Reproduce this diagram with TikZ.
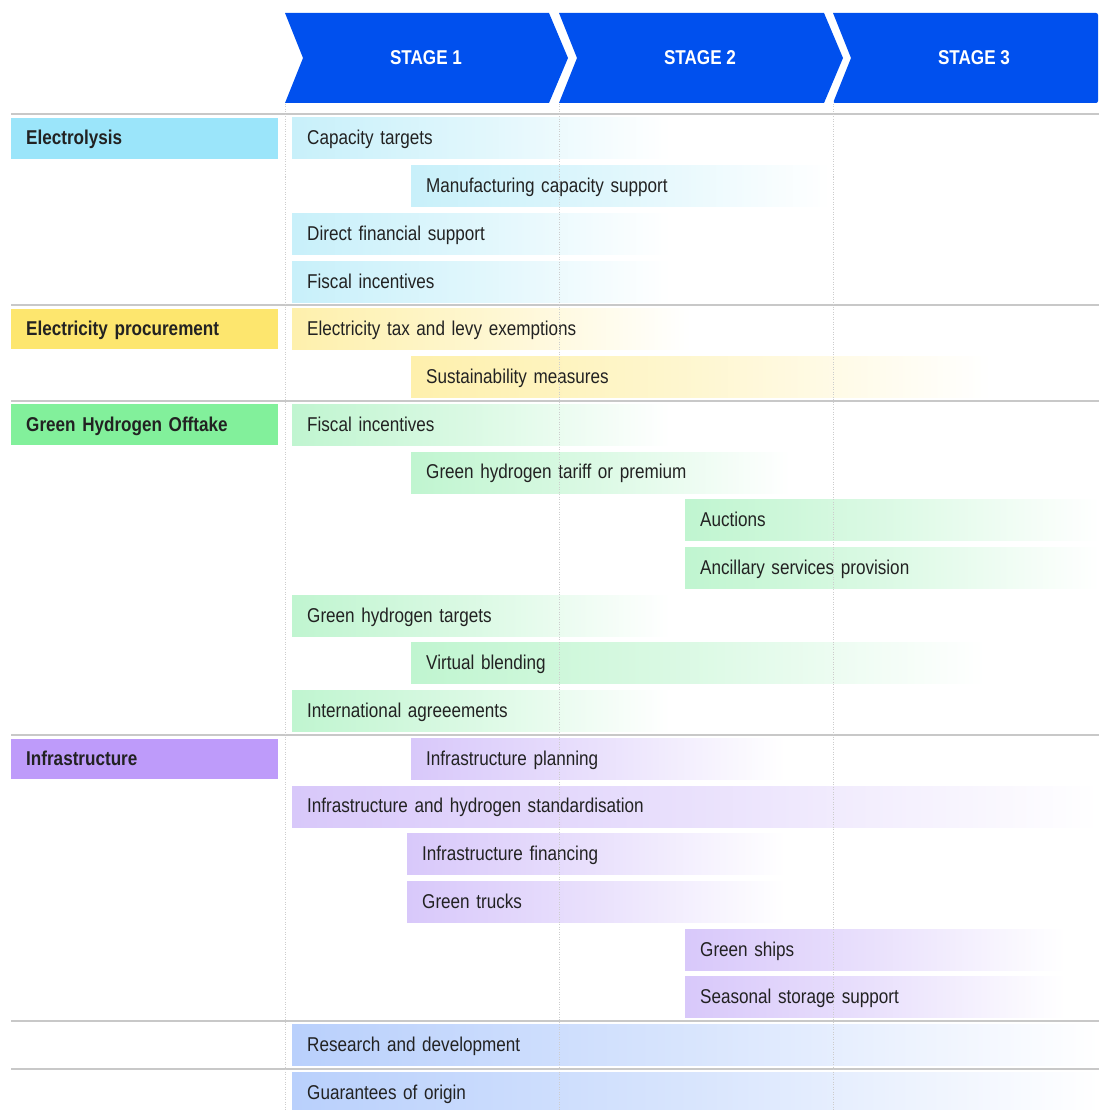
\documentclass[tikz,border=0pt]{standalone}
\usepackage{fontspec}
\setmainfont{Liberation Sans}[FakeStretch=0.855]
\definecolor{hdr}{RGB}{0,80,238}
\definecolor{txt}{RGB}{34,34,34}
\definecolor{sepc}{RGB}{200,200,200}
\definecolor{dotc}{RGB}{205,205,205}
\definecolor{cyanL}{RGB}{155,229,250}
\definecolor{cyanB}{RGB}{200,240,250}
\definecolor{yelL}{RGB}{253,230,110}
\definecolor{yelB}{RGB}{254,240,172}
\definecolor{grnL}{RGB}{130,240,155}
\definecolor{grnB}{RGB}{192,245,208}
\definecolor{purL}{RGB}{190,155,250}
\definecolor{purB}{RGB}{216,200,250}
\definecolor{bluB}{RGB}{185,208,252}
\tikzset{
  bar/.style={anchor=west, inner xsep=15pt, inner ysep=0pt, minimum height=41pt,
    text height=14.3pt, text depth=1.5pt, align=left, text=txt,
    font=\fontsize{20pt}{24pt}\selectfont},
  lab/.style={anchor=west, inner xsep=15pt, inner ysep=0pt, minimum height=40.5pt,
    text width=237pt, text height=14.3pt, text depth=1.5pt, align=left, text=txt,
    font=\fontsize{20pt}{24pt}\selectfont\bfseries},
  stagetxt/.style={text=white, font=\fontsize{20pt}{24pt}\selectfont\bfseries},
  chev/.style={fill=hdr},
  sepline/.style={draw=sepc, line width=2pt},
  colline/.style={draw=dotc, line width=1pt, dash pattern=on 1pt off 1.5pt}
}
\newcommand{\polbar}[6]{%
  \pgfmathsetmacro\yc{-(138.5+47.72*(#2))}%
  \pgfmathsetmacro\tw{#4-#3-30}%
  \node[bar, left color=#5, right color=white, middle color=#5!55!white, text width=\tw pt] (#1) at (#3,\yc) {#6};%
}
\begin{document}
\begin{tikzpicture}[x=1pt,y=1pt]
\useasboundingbox (0,0) rectangle (1099,-1110);
% header chevrons
\fill[chev] (285,-13) -- (549,-13) -- (568,-58) -- (549,-103) -- (285,-103) -- (303,-58) -- cycle;
\fill[chev] (559,-13) -- (824,-13) -- (843,-58) -- (824,-103) -- (559,-103) -- (577,-58) -- cycle;
\fill[chev, rounded corners=2pt] (833,-13) -- (1098,-13) -- (1098,-103) -- (833,-103) [sharp corners] -- (851,-58) -- cycle;
\node[stagetxt] (s1) at (426,-58) {STAGE 1};
\node[stagetxt] (s2) at (700,-58) {STAGE 2};
\node[stagetxt] (s3) at (974,-58) {STAGE 3};
% separators
\foreach \yy in {114,305,401,735,1021,1069} \draw[sepline] (11,-\yy) -- (1099,-\yy);
% category labels
\node[lab, fill=cyanL] (lElec) at (11,-138.3) {Electrolysis};
\node[lab, fill=yelL] (lProc) at (11,-329) {Electricity procurement};
\node[lab, fill=grnL] (lOff) at (11,-424.7) {Green Hydrogen Offtake};
\node[lab, fill=purL] (lInf) at (11,-758.8) {Infrastructure};
% bars
\polbar{b0}{0}{292}{670}{cyanB}{Capacity targets}
\polbar{b1}{1}{411}{830}{cyanB}{Manufacturing capacity support}
\polbar{b2}{2}{292}{670}{cyanB}{Direct financial support}
\polbar{b3}{3}{292}{670}{cyanB}{Fiscal incentives}
\polbar{b4}{4}{292}{690}{yelB}{Electricity tax and levy exemptions}
\polbar{b5}{5}{411}{990}{yelB}{Sustainability measures}
\polbar{b6}{6}{292}{670}{grnB}{Fiscal incentives}
\polbar{b7}{7}{411}{790}{grnB}{Green hydrogen tariff or premium}
\polbar{b8}{8}{685}{1099}{grnB}{Auctions}
\polbar{b9}{9}{685}{1099}{grnB}{Ancillary services provision}
\polbar{b10}{10}{292}{670}{grnB}{Green hydrogen targets}
\polbar{b11}{11}{411}{985}{grnB}{Virtual blending}
\polbar{b12}{12}{292}{670}{grnB}{International agreeements}
\polbar{b13}{13}{411}{785}{purB}{Infrastructure planning}
\polbar{b14}{14}{292}{1099}{purB}{Infrastructure and hydrogen standardisation}
\polbar{b15}{15}{407}{785}{purB}{Infrastructure financing}
\polbar{b16}{16}{407}{785}{purB}{Green trucks}
\polbar{b17}{17}{685}{1065}{purB}{Green ships}
\polbar{b18}{18}{685}{1065}{purB}{Seasonal storage support}
\polbar{b19}{19}{292}{1099}{bluB}{Research and development}
\polbar{b20}{20}{292}{1099}{bluB}{Guarantees of origin}
% stage column lines
\foreach \xx in {285,559,833} \draw[colline] (\xx,-104) -- (\xx,-1110);
\end{tikzpicture}
\end{document}
